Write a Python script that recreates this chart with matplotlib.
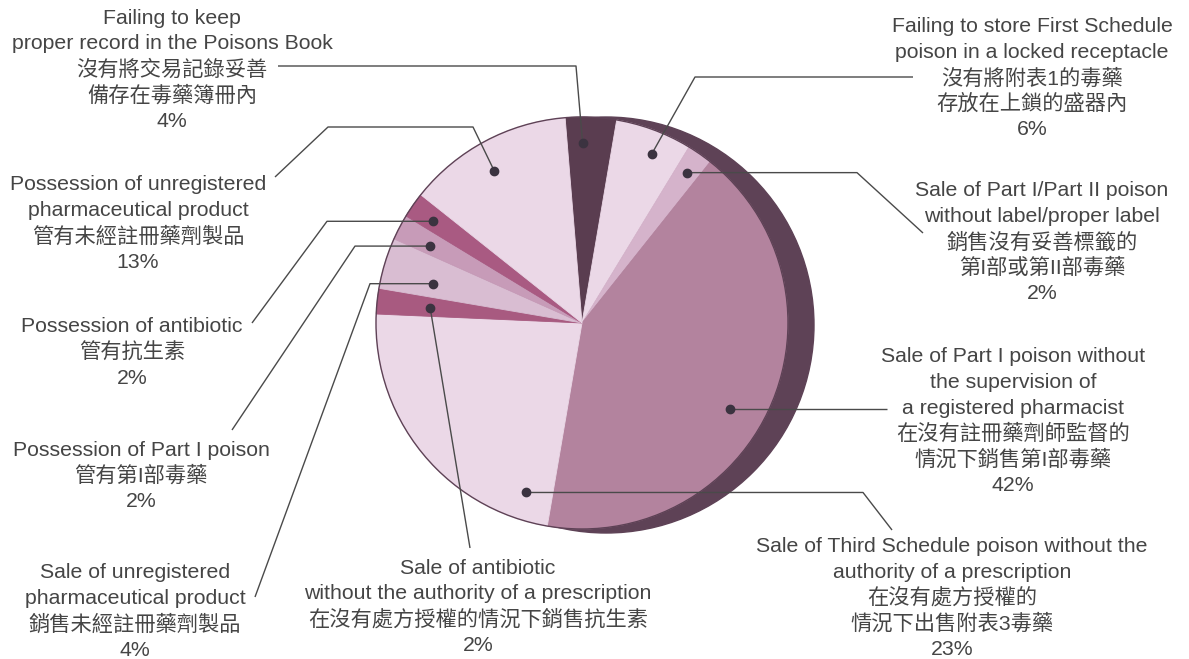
import matplotlib
matplotlib.use("Agg")
import matplotlib.pyplot as plt
import numpy as np
from matplotlib.patches import Circle

plt.rcParams['font.family'] = ['Liberation Sans', 'Noto Sans CJK TC']

# data, clockwise from the top
shares = [4, 6, 2, 42, 23, 2, 4, 2, 2, 13]
label_lines = [
    ["Failing to keep", "proper record in the Poisons Book", "沒有將交易記錄妥善", "備存在毒藥簿冊內"],
    ["Failing to store First Schedule", "poison in a locked receptacle", "沒有將附表1的毒藥", "存放在上鎖的盛器內"],
    ["Sale of Part I/Part II poison", "without label/proper label", "銷售沒有妥善標籤的", "第I部或第II部毒藥"],
    ["Sale of Part I poison without", "the supervision of", "a registered pharmacist",
     "在沒有註冊藥劑師監督的", "情況下銷售第I部毒藥"],
    ["Sale of Third Schedule poison without the", "authority of a prescription",
     "在沒有處方授權的", "情況下出售附表3毒藥"],
    ["Sale of antibiotic", "without the authority of a prescription", "在沒有處方授權的情況下銷售抗生素"],
    ["Sale of unregistered", "pharmaceutical product", "銷售未經註冊藥劑製品"],
    ["Possession of Part I poison", "管有第I部毒藥"],
    ["Possession of antibiotic", "管有抗生素"],
    ["Possession of unregistered", "pharmaceutical product", "管有未經註冊藥劑製品"],
]
colors = ['#5a3d50', '#ebd8e7', '#d5b3cb', '#b3839e', '#ebd8e7',
          '#a85a80', '#d9bdd2', '#c79bb8', '#a95a82', '#ebd8e7']

# layout (pixel coords, y measured from the top)
W, H = 1189, 659
cx, cy, R = 582, 323, 206
start = 94.7
label_pos = [(172, 18), (1032, 26.5), (1042, 190.5), (1013, 356.5), (952, 546.5),
             (478, 568), (135, 573), (141, 450), (132, 326.7), (138, 185)]
line_step = 25.8
# where the dot sits: fraction across the wedge, fraction of radius
dot_at = [(0.34, 0.874), (0.59, 0.89), (0.5, 0.89), (0.54, 0.83), (0.105, 0.867),
          (0.42, 0.74), (0.35, 0.75), (0.39, 0.825), (0.43, 0.874), (0.46, 0.854)]
# None -> keep the dot's y (horizontal segment)
routes = [
    [(576, 66), (278, 66)],
    [(695, 77), (913, 77)],
    [(857, None), (923, 233)],
    [(887, None)],
    [(863, None), (892, 530)],
    [(470, 548)],
    [(370, None), (255, 597)],
    [(355, None), (232, 430)],
    [(327, None), (252, 323)],
    [(473, 127), (328, 127), (275, 177)],
]

rim = '#5e4256'
text_color = '#454545'

fig = plt.figure(figsize=(W / 100, H / 100), dpi=100)
ax = fig.add_axes([0, 0, 1, 1])

ax.add_patch(Circle((cx + 24, H - 325), 208, color=rim, zorder=0))
wedges, _ = ax.pie(shares, colors=colors, startangle=start, counterclock=False,
                   radius=R, center=(cx, H - cy), frame=True,
                   wedgeprops={'linewidth': 0.6, 'zorder': 1})
for w in wedges:
    w.set_edgecolor(w.get_facecolor())
ax.add_patch(Circle((cx, H - cy), R, fill=False, edgecolor=rim, lw=1.0, zorder=2))

total = float(sum(shares))
cum = 0.0
for i, v in enumerate(shares):
    f, rf = dot_at[i]
    ang = np.deg2rad(start - 360 * (cum + f * v) / total)
    cum += v
    dx = cx + R * rf * np.cos(ang)
    dy = (H - cy) + R * rf * np.sin(ang)
    xs, ys = [dx], [dy]
    for px, py in routes[i]:
        xs.append(px)
        ys.append(dy if py is None else H - py)
    ax.plot(xs, ys, color='#4a4a4a', lw=1.0, zorder=3, solid_capstyle='butt')
    ax.plot(dx, dy, 'o', color='#3b3340', ms=6, mec='#3b3340', zorder=4)

    lx, ly = label_pos[i]
    lines = label_lines[i] + [f"{v}%"]
    for k, s in enumerate(lines):
        ax.text(lx, H - (ly + k * line_step), s, ha='center', va='center',
                fontsize=15.3, color=text_color)

ax.set_xlim(0, W)
ax.set_ylim(0, H)
ax.set_aspect('auto')
ax.axis('off')

fig.savefig('out.png', dpi=100)
